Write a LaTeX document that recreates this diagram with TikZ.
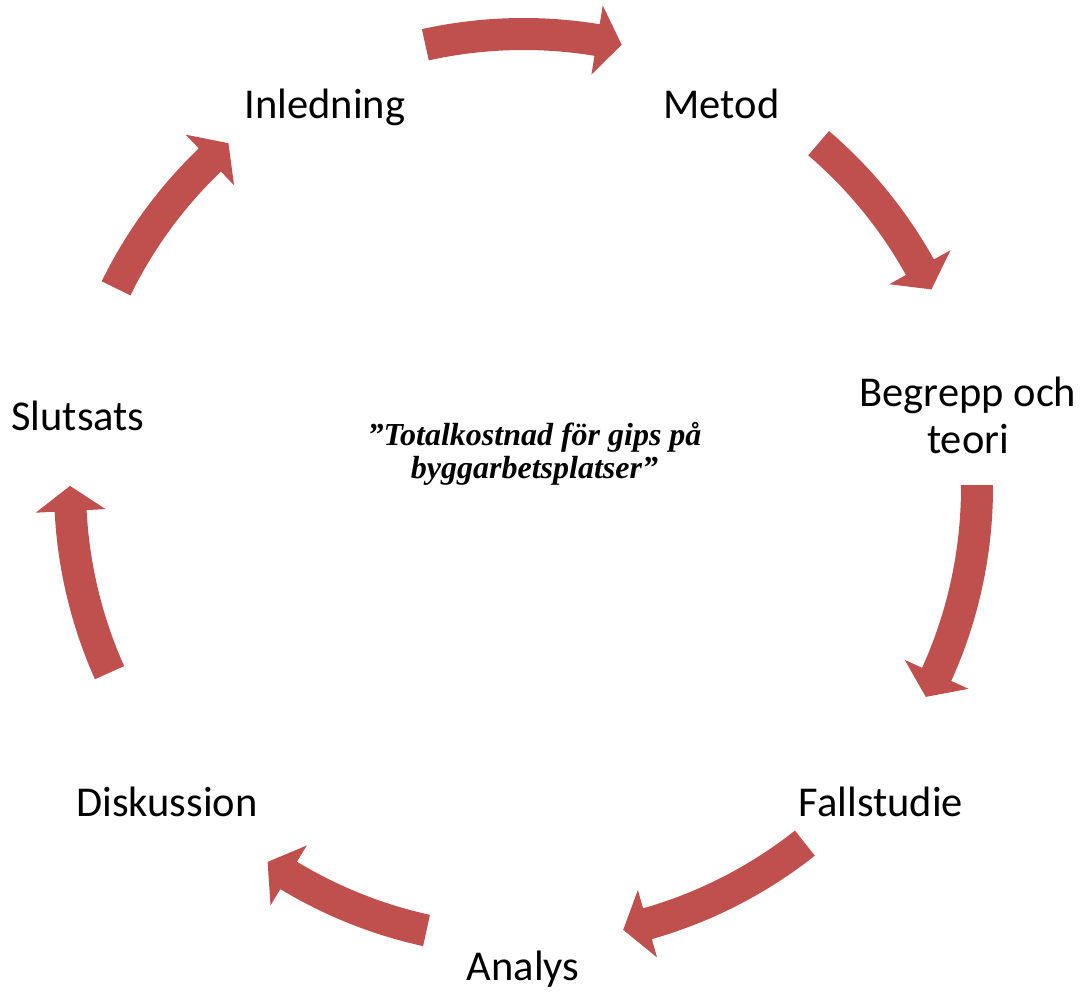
\documentclass[tikz,border=0pt]{standalone}
\usepackage{fontspec}
\setmainfont{Carlito}
\newfontfamily\tnrfont{Liberation Serif}
\definecolor{arrowred}{HTML}{C0504D}
\begin{document}
\begin{tikzpicture}[x=1pt,y=1pt,
  lbl/.style={inner sep=0pt, outer sep=0pt, font=\fontsize{42.5}{47}\selectfont},
  centertext/.style={inner sep=0pt, align=center, font=\tnrfont\bfseries\itshape\fontsize{32}{33}\selectfont},
  arrowfill/.style={fill=arrowred, draw=none}]
\useasboundingbox (0,0) rectangle (1081,993);
\fill[white] (0,0) rectangle (1081,993);

% text nodes
\node[lbl, anchor=base] (inl) at (325,874.5) {Inledning};
\node[lbl, anchor=base] (met) at (721.5,874.5) {Metod};
\node[lbl, anchor=base, align=center] (beg) at (968,539.5) {Begrepp och\\teori};
\node[lbl, anchor=base] (fal) at (881,176.5) {Fallstudie};
\node[lbl, anchor=base] (ana) at (523,12.5) {Analys};
\node[lbl, anchor=base] (dis) at (167,176.5) {Diskussion};
\node[lbl, anchor=base] (slu) at (78,562.5) {Slutsats};
\node[centertext, anchor=base] (ctr) at (534.5,514.5) {”Totalkostnad för gips på\\byggarbetsplatser”};

% curved block arrows on a circle centred at (523.5,505.5)
\def\Ro{469.5}\def\Ri{437.5}\def\Rc{453.5}\def\Rho{488.5}\def\Rhi{418.5}\def\hd{3.16}
\newcommand\cycarrow[2]{%
  \pgfmathsetmacro\tb{#2+\hd}%
  \fill[arrowfill] (#1:\Ro) arc[start angle=#1, end angle=\tb, radius=\Ro pt]
     -- (\tb:\Rho) -- (#2:\Rc) -- (\tb:\Rhi) -- (\tb:\Ri)
     arc[start angle=\tb, end angle=#1, radius=\Ri pt] -- cycle;}
\begin{scope}[shift={(523.5,505.5)}]
  \cycarrow{102.5}{77.5}
  \cycarrow{49.4}{25.9}
  \cycarrow{0.3}{-27.5}
  \cycarrow{-51.65}{-77.3}
  \cycarrow{-102.35}{-124.35}
  \cycarrow{204.1}{179.8}
  \cycarrow{153.95}{130.6}
\end{scope}
\end{tikzpicture}
\end{document}
